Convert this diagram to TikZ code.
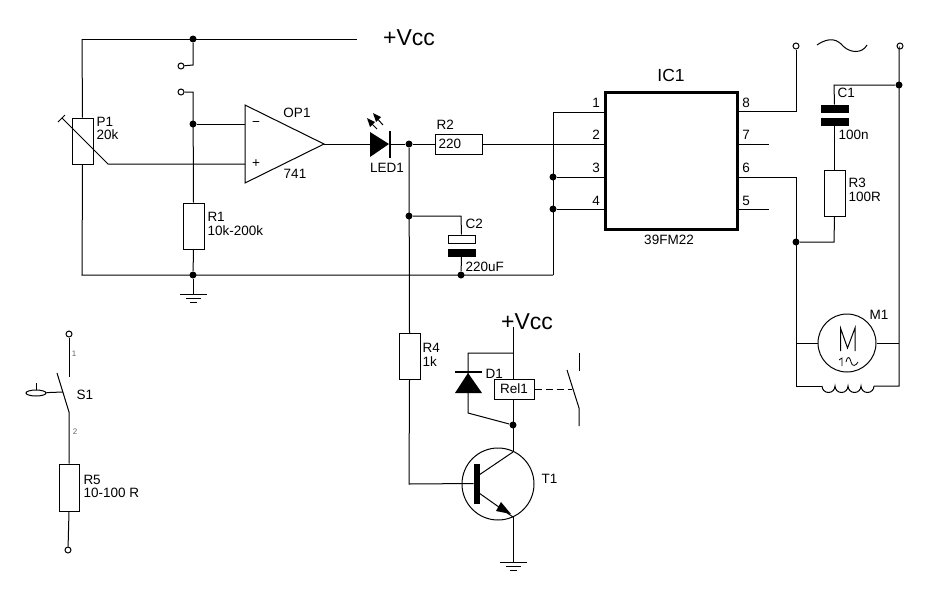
\documentclass[tikz,border=0pt]{standalone}
\usepackage{fontspec}
\usetikzlibrary{shapes.geometric}
\setmainfont{Liberation Sans}
\begin{document}
\begin{tikzpicture}[x=1pt,y=-1pt,line width=1pt,line join=miter,
  lbl/.style={font=\fontsize{13.5}{14}\selectfont,inner sep=0pt,anchor=west},
  cl/.style={font=\fontsize{13.5}{14}\selectfont,inner sep=0pt},
  big/.style={font=\fontsize{23}{24}\selectfont,inner sep=0pt},
  tiny/.style={font=\fontsize{8}{9}\selectfont,inner sep=0pt,text=black!60},
  rv/.style={draw,fill=white,minimum width=21pt,minimum height=46pt,inner sep=0pt},
  rh/.style={draw,fill=white,minimum width=47pt,minimum height=20pt,inner sep=0pt},
  dot/.style={circle,fill=black,inner sep=0pt,minimum size=7pt},
  term/.style={circle,draw,fill=white,inner sep=0pt,minimum size=6pt},
  plate/.style={draw,fill=black,minimum width=27pt,minimum height=7pt,inner sep=0pt},
  oplate/.style={draw,fill=white,minimum width=27pt,minimum height=8pt,inner sep=0pt},
  wire/.style={draw}]
\useasboundingbox (0,0) rectangle (929,595);
\fill[white] (0,0) rectangle (929,595);
% --- junctions and corners
\coordinate (TL) at (82,39); \coordinate (TR) at (357,39);
\coordinate (BL) at (82,275); \coordinate (BR) at (553,275);
\node[dot] (jTop) at (193,39) {};
\node[dot] (jInv) at (193,124) {};
\node[dot] (jBot) at (193,275) {};
\node[term] (t1) at (181,66) {};
\node[term] (t2) at (181,92) {};
\coordinate (t1c) at (193,65); \coordinate (t2c) at (193,92);
\node[rv] (P1) at (82.5,141) {};
\node[rv] (R1) at (193.5,226) {};
% op amp
\coordinate (opA) at (245,105); \coordinate (opB) at (245,183); \coordinate (opO) at (324,144);
\coordinate (opM) at (245,124); \coordinate (opP) at (245,164);
\coordinate (wip) at (108,164); \coordinate (wipS) at (62,118);
\coordinate (wipA) at (58,122); \coordinate (wipB) at (65,115);
\draw (TL) -- (TR);
\draw (TL) -- (P1.north); \draw (P1.south) -- (BL) -- (BR);
\draw (jTop) -- (t1c) -- (t1);
\draw (t2) -- (t2c) -- (R1.north);
\draw (R1.south) -- (jBot);
\draw (jInv) -- (opM);
\draw (wipS) -- (wip) -- (opP);
\draw (wipA) -- (wipB);
\draw (opA) -- (opB) -- (opO) -- cycle;
% ground 1
\coordinate (g1) at (193,294);
\draw (jBot) -- (g1);
\draw (180,294) -- (207,294); \draw (186,298) -- (201,298); \draw (190,302) -- (197,302);
% LED
\coordinate (ledA) at (370,144); \coordinate (ledK) at (390,144);
\fill (370,132) -- (370,157) -- (389,144) -- cycle;
\draw[line width=2pt] (390,131) -- (390,158);
\draw (opO) -- (ledA);
\node[dot] (jLed) at (409,144) {};
\node[rh] (R2) at (458.5,144) {};
\draw (ledK) -- (jLed) -- (R2.west);
\draw (383,125) -- (374,115); \fill (373,113) -- (381,117) -- (376,122) -- cycle;
\draw (377,129) -- (368,120); \fill (367,118) -- (375,122) -- (370,127) -- cycle;
% IC
\node[draw,line width=3pt,minimum width=132pt,minimum height=137pt,inner sep=0pt] (IC) at (671,160.5) {};
\coordinate (p1) at (604,112); \coordinate (p2) at (604,144); \coordinate (p3) at (604,177); \coordinate (p4) at (604,209);
\coordinate (p8) at (738,111); \coordinate (p7) at (738,144); \coordinate (p6) at (738,177); \coordinate (p5) at (738,209);
\coordinate (v1) at (553,112);
\node[dot] (j3) at (553,177) {};
\node[dot] (j4) at (553,209) {};
\draw (R2.east) -- (p2);
\draw (p1) -- (v1) -- (BR);
\draw (j3) -- (p3); \draw (j4) -- (p4);
% C2
\node[dot] (jC2) at (409,216) {};
\node[dot] (jC2b) at (461,275) {};
\coordinate (c2t) at (461,216);
\node[oplate] (C2a) at (461.5,239) {};
\node[plate] (C2b) at (461.5,252.5) {};
\draw (jC2) -- (c2t) -- (C2a.north);
\draw (C2b.south) -- (jC2b);
% R4, transistor
\node[rv] (R4) at (409.5,356.5) {};
\coordinate (bCorner) at (409,484);
\node[circle,draw,inner sep=0pt,minimum size=72pt] (T1) at (498,484) {};
\node[draw,fill=black,minimum width=5pt,minimum height=39pt,inner sep=0pt] (Tb) at (476.5,483.5) {};
\coordinate (Tc) at (513,452); \coordinate (Te) at (513,517);
\coordinate (Tci) at (479,475); \coordinate (Tei) at (479,493);
\draw (jLed) -- (R4.north);
\draw (R4.south) -- (bCorner) -- (Tb.west);
\draw (Tci) -- (Tc); \draw (Tei) -- (Te);
\fill (511,514) -- (501,502) -- (496,511) -- cycle;
% Relay
\coordinate (Vcc) at (513,327); \coordinate (dT) at (513,353); \coordinate (dC) at (468,353);
\node[draw,fill=white,minimum width=40pt,minimum height=20pt,inner sep=0pt,font=\fontsize{13.5}{14}\selectfont] (Rel) at (514,389) {Rel1};
\node[dot] (jRel) at (513,425) {};
\draw (Vcc) -- (Vcc |- Rel.north);
\draw (Vcc |- Rel.south) -- (Tc);
\coordinate (dA) at (468,413);
\draw (dT) -- (dC) -- (dA) -- (jRel);
\fill (468,373) -- (455,393) -- (482,393) -- cycle;
\draw[line width=2.5pt] (455,372) -- (482,372);
\coordinate (swD) at (572,389);
\draw[dash pattern=on 7pt off 4pt] (Rel.east) -- (swD);
\draw (579,353) -- (579,371);
\draw (567,370) -- (579,408) -- (579,426);
% ground 2
\coordinate (g2) at (513,562);
\draw (Te) -- (g2);
\draw (500,562) -- (527,562); \draw (506,566) -- (521,566); \draw (510,570) -- (517,570);
% right side
\node[term] (tL) at (796,46) {};
\node[term] (tR) at (900,46) {};
\coordinate (c8) at (796,111); \coordinate (c6) at (796,177);
\coordinate (botL) at (796,386); \coordinate (botR) at (899,386);
\node[dot] (jR) at (899,85) {};
\node[dot] (jM) at (796,242) {};
\node[plate] (C1a) at (834.5,108.5) {};
\node[plate] (C1b) at (834.5,121.5) {};
\node[rv] (R3) at (834.5,193.5) {};
\coordinate (c1t) at (834,85); \coordinate (r3b) at (834,242);
\draw (p8) -- (c8) -- (tL);
\draw (p7) -- (769,144); \draw (p5) -- (769,209);
\draw (p6) -- (c6) -- (botL) -- (822,386);
\draw (tR) -- (899,49) -- (botR) -- (874,386);
\draw (jR) -- (c1t) -- (C1a.north);
\draw (C1b.south) -- (R3.north);
\draw (R3.south) -- (r3b) -- (jM);
\draw (817,45) .. controls (830,36) and (838,40) .. (843,46) .. controls (850,53) and (862,54) .. (867,45);
% motor
\node[circle,draw,inner sep=0pt,minimum size=58pt] (M) at (847,343) {};
\draw (796,343) -- (M.west); \draw (M.east) -- (899,343);
\draw (822,386) arc (180:0:6.5) arc (180:0:6.5) arc (180:0:6.5) arc (180:0:6.5);
\draw (840.5,351) -- (840.5,328) -- (847.5,348) -- (855,328) -- (855,351);
\draw[line width=0.8pt] (839,360) -- (842,358) -- (842,366);
\draw[line width=0.8pt] (846,362) .. controls (848,354) and (850,358) .. (851,362) .. controls (852,367) and (856,366) .. (858,362);
% S1 / R5
\node[term] (ta) at (69,334) {};
\node[term] (tb) at (68,550) {};
\node[rv,minimum width=20pt,minimum height=47pt] (R5) at (69,487.5) {};
\coordinate (sa) at (69,377); \coordinate (sb) at (69,412); \coordinate (sh) at (63,392);
\draw (ta) -- (sa);
\draw (57,373) -- (sb) -- (R5.north);
\draw (R5.south) -- (tb);
\node[ellipse,draw,inner sep=0pt,minimum width=20pt,minimum height=6pt] (hd) at (36,393) {};
\draw (hd) -- (sh);
\draw (36,390) -- (36,383);
% labels
\node[big] (lV1) at (409,38) {+Vcc};
\node[big] (lV2) at (527,322) {+Vcc};
\node[cl,font=\fontsize{17.5}{18}\selectfont] (lIC) at (671,75) {IC1};
\node[cl] (l39) at (669,240) {39FM22};
\node[lbl] (lP1) at (96,122) {P1}; \node[lbl] (lP1v) at (96,135) {20k};
\node[lbl] (lR1) at (207,217) {R1}; \node[lbl] (lR1v) at (207,231) {10k-200k};
\node[cl] (lOP) at (297,113) {OP1}; \node[cl] (l741) at (295,174) {741};
\node[cl] (lm) at (256,124) {−}; \node[cl] (lp) at (256,164) {+};
\node[cl] (lLED) at (387,168) {LED1};
\node[lbl] (lR2) at (436,125) {R2}; \node[lbl] (l220) at (438,144) {220};
\node[lbl] (lC2) at (465,224) {C2}; \node[lbl] (lC2v) at (465,267) {220uF};
\foreach \n/\y in {1/103,2/135,3/168,4/201}{\node[cl] (ln\n) at (596,\y) {\n};}
\foreach \n/\y in {8/103,7/135,6/168,5/201}{\node[cl] (ln\n) at (746,\y) {\n};}
\node[lbl] (lC1) at (837,93) {C1}; \node[lbl] (lC1v) at (838,135) {100n};
\node[lbl] (lR3) at (848,183) {R3}; \node[lbl] (lR3v) at (848,197) {100R};
\node[cl] (lM1) at (879,315) {M1};
\node[lbl] (lR4) at (422,348) {R4}; \node[lbl] (lR4v) at (422,362) {1k};
\node[lbl] (lD1) at (485,374) {D1};
\node[lbl] (lT1) at (541,479) {T1};
\node[tiny] (ls1) at (74,354) {1}; \node[tiny] (ls2) at (75,432) {2};
\node[lbl] (lS1) at (76,395) {S1};
\node[lbl] (lR5) at (83,480) {R5}; \node[lbl] (lR5v) at (83,493) {10-100 R};
\end{tikzpicture}
\end{document}
